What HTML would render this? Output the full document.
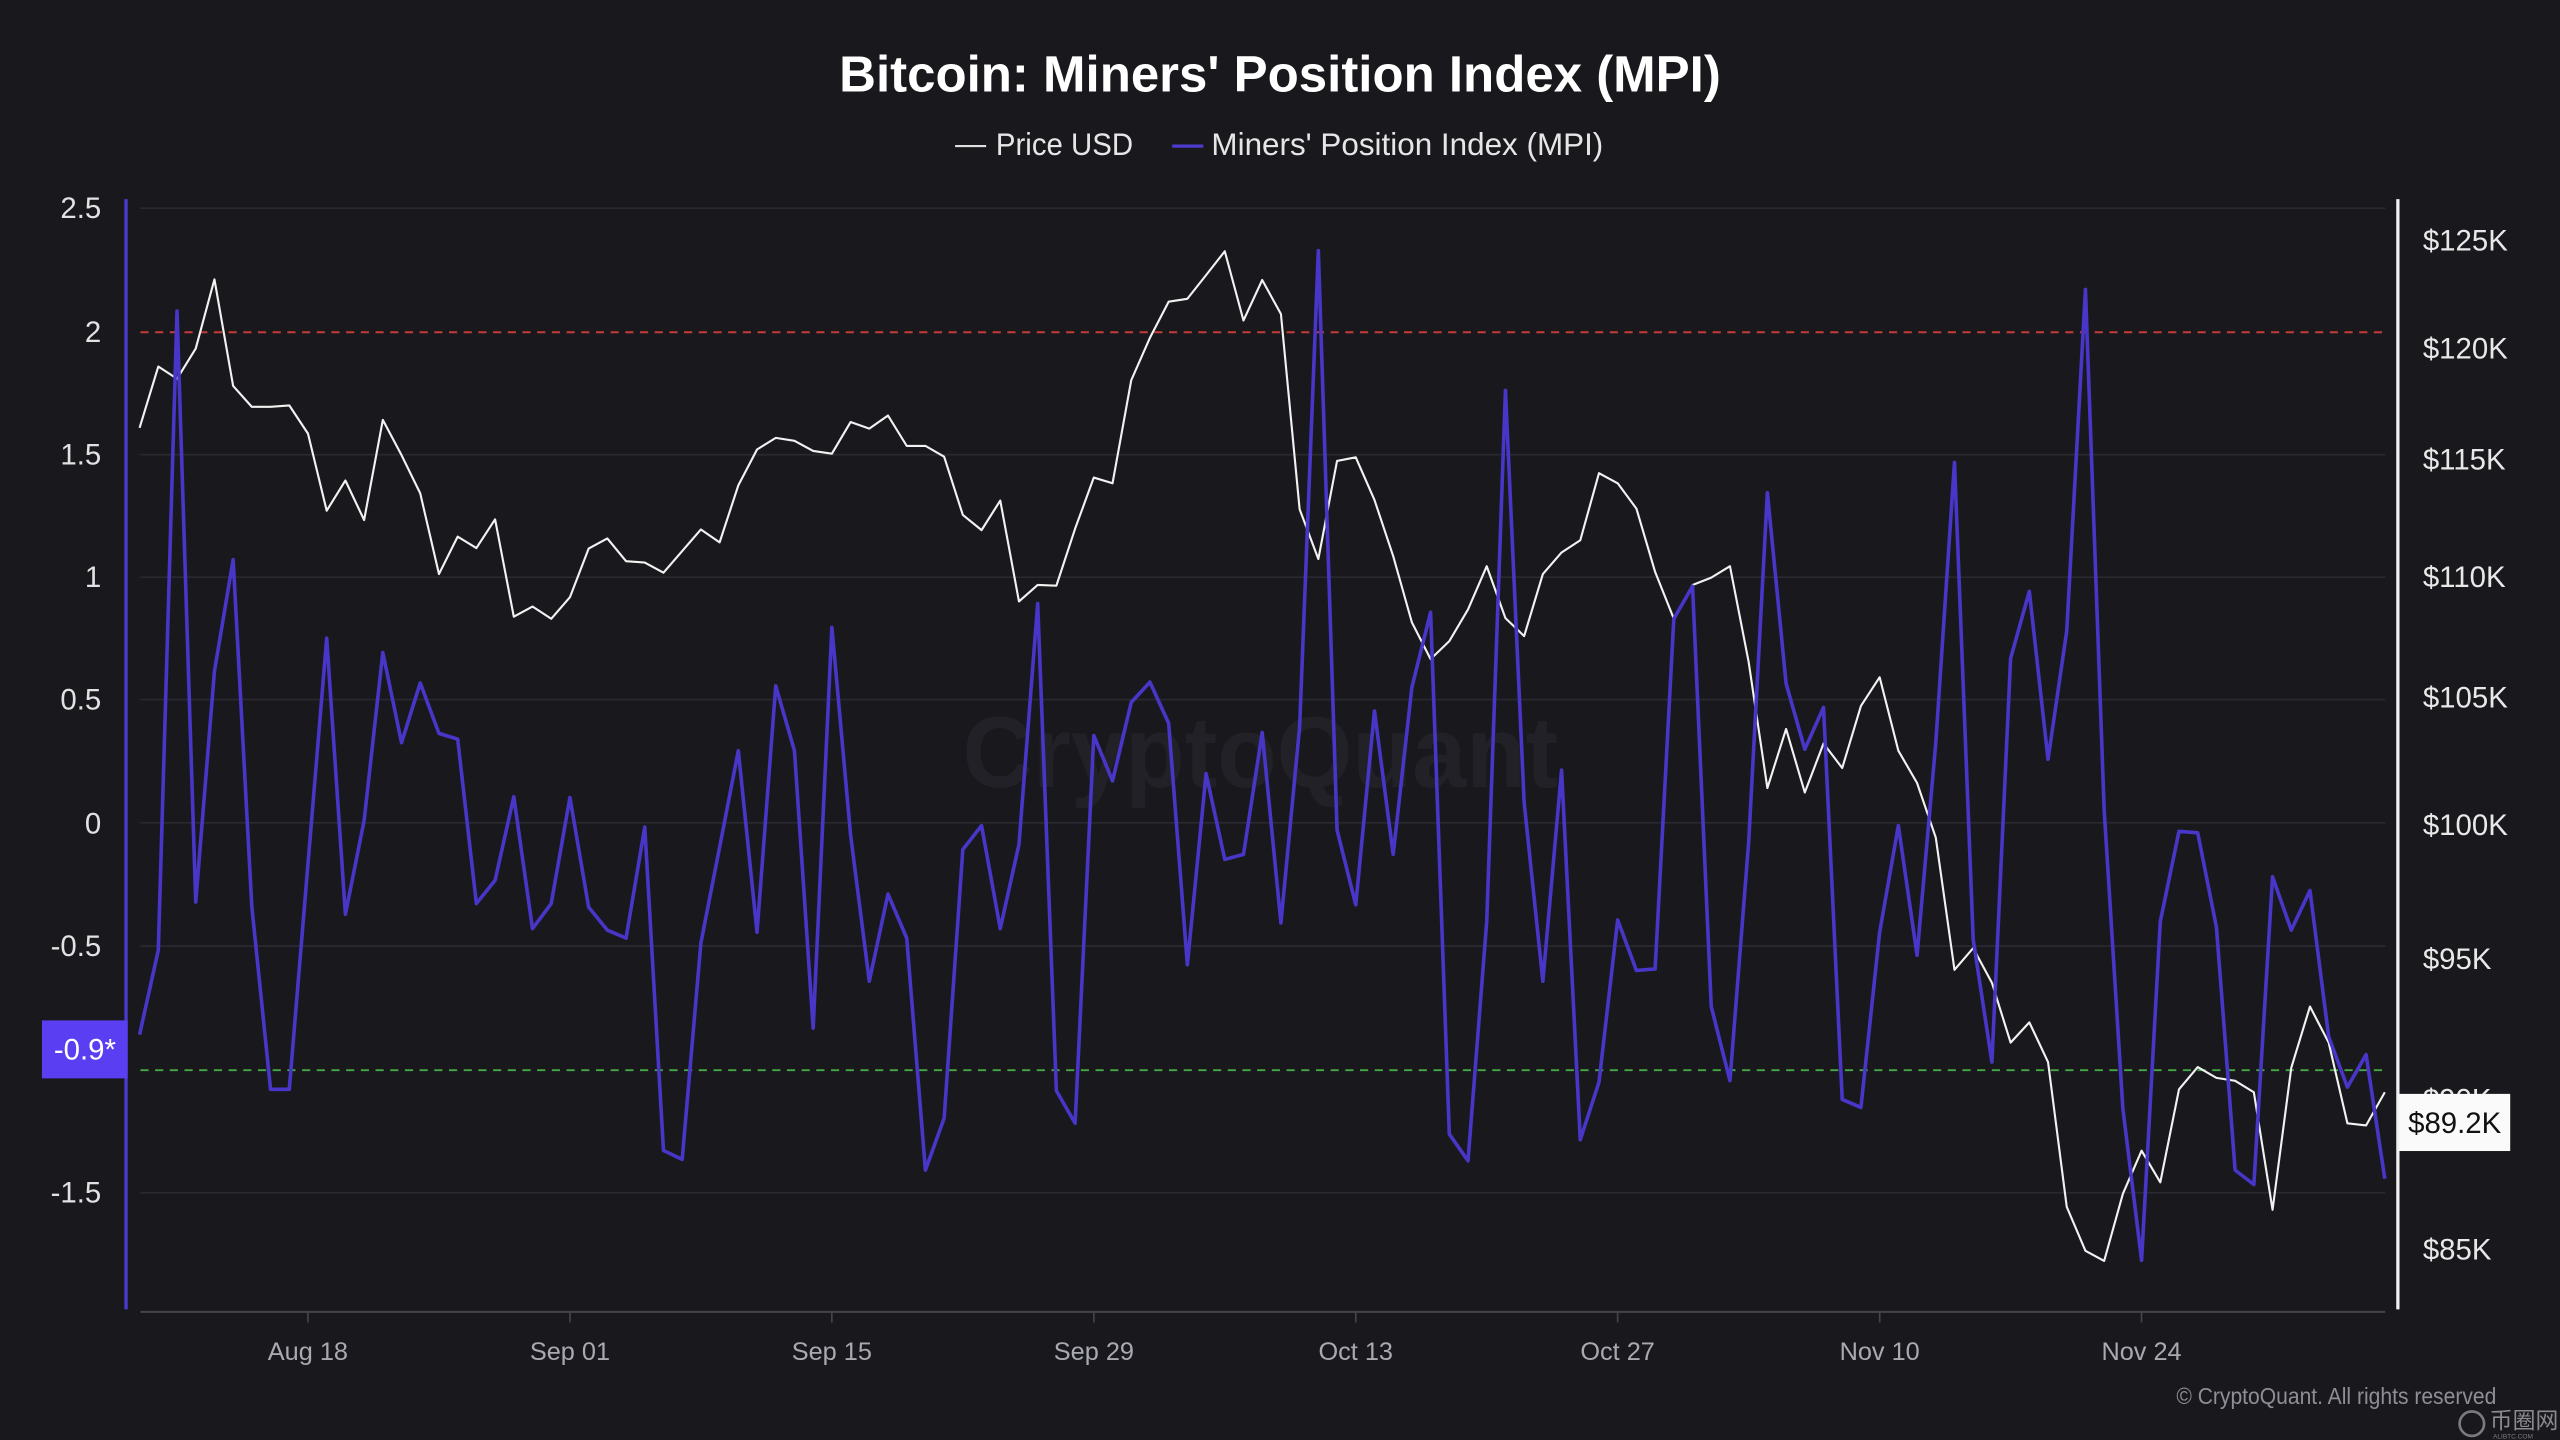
<!DOCTYPE html>
<html>
<head>
<meta charset="utf-8">
<style>
  html, body { margin: 0; padding: 0; background: #19191d; }
  svg { display: block; }
  text { font-family: "Liberation Sans", "Noto Sans CJK SC", sans-serif; }
</style>
</head>
<body>
<svg width="2560" height="1440" viewBox="0 0 1568 882" xmlns="http://www.w3.org/2000/svg">
  <rect x="0" y="0" width="1568" height="882" fill="#19191d"/>

  <!-- Title -->
  <text x="784" y="56" text-anchor="middle" font-size="31" font-weight="bold" fill="#ffffff" textLength="540" lengthAdjust="spacingAndGlyphs">Bitcoin: Miners' Position Index (MPI)</text>

  <!-- Legend -->
  <line x1="585" y1="89.5" x2="604" y2="89.5" stroke="#e0e0e0" stroke-width="1.3"/>
  <text x="610" y="95" font-size="19.5" fill="#e6e6e6" textLength="84" lengthAdjust="spacingAndGlyphs">Price USD</text>
  <line x1="718" y1="89.5" x2="737" y2="89.5" stroke="#4b3bd0" stroke-width="2"/>
  <text x="742" y="95" font-size="19.5" fill="#e6e6e6" textLength="240" lengthAdjust="spacingAndGlyphs">Miners' Position Index (MPI)</text>

  <!-- Watermark -->
  <text x="772" y="482" text-anchor="middle" font-size="62" font-weight="bold" fill="#222127" textLength="365" lengthAdjust="spacingAndGlyphs">CryptoQuant</text>

  <!-- Gridlines -->
  <g stroke="#2a2930" stroke-width="1">
    <line x1="86" y1="127.5" x2="1461" y2="127.5"/>
    <line x1="86" y1="278.5" x2="1461" y2="278.5"/>
    <line x1="86" y1="353.5" x2="1461" y2="353.5"/>
    <line x1="86" y1="428.5" x2="1461" y2="428.5"/>
    <line x1="86" y1="504" x2="1461" y2="504"/>
    <line x1="86" y1="579.5" x2="1461" y2="579.5"/>
    <line x1="86" y1="730.5" x2="1461" y2="730.5"/>
  </g>
  <!-- Threshold lines -->
  <line x1="86" y1="203.5" x2="1461" y2="203.5" stroke="#c63a3a" stroke-width="1.2" stroke-dasharray="5 4"/>
  <line x1="86" y1="655.5" x2="1461" y2="655.5" stroke="#45a845" stroke-width="1.2" stroke-dasharray="5 4"/>

  <!-- Axes -->
  <line x1="77.2" y1="122" x2="77.2" y2="802" stroke="#4b3bd0" stroke-width="2"/>
  <line x1="1468.7" y1="122" x2="1468.7" y2="802" stroke="#f0f0f0" stroke-width="2"/>
  <line x1="86" y1="803.5" x2="1461" y2="803.5" stroke="#45454c" stroke-width="1.2"/>
  <g stroke="#45454c" stroke-width="1">
    <line x1="188.6" y1="803.5" x2="188.6" y2="810"/>
    <line x1="349.1" y1="803.5" x2="349.1" y2="810"/>
    <line x1="509.5" y1="803.5" x2="509.5" y2="810"/>
    <line x1="670" y1="803.5" x2="670" y2="810"/>
    <line x1="830.4" y1="803.5" x2="830.4" y2="810"/>
    <line x1="990.8" y1="803.5" x2="990.8" y2="810"/>
    <line x1="1151.3" y1="803.5" x2="1151.3" y2="810"/>
    <line x1="1311.7" y1="803.5" x2="1311.7" y2="810"/>
  </g>

  <!-- Left axis labels -->
  <g font-size="18" fill="#e2e2e2" text-anchor="end">
    <text x="62" y="133.5">2.5</text>
    <text x="62" y="209.5">2</text>
    <text x="62" y="284.5">1.5</text>
    <text x="62" y="359.5">1</text>
    <text x="62" y="434.5">0.5</text>
    <text x="62" y="510.5">0</text>
    <text x="62" y="585.5">-0.5</text>
    <text x="62" y="736.5">-1.5</text>
  </g>

  <!-- Right axis labels -->
  <g font-size="18" fill="#e8e8e8" text-anchor="start">
    <text x="1484" y="153.5">$125K</text>
    <text x="1484" y="219.5">$120K</text>
    <text x="1484" y="287.5">$115K</text>
    <text x="1484" y="359.5">$110K</text>
    <text x="1484" y="433.5">$105K</text>
    <text x="1484" y="511.5">$100K</text>
    <text x="1484" y="593.5">$95K</text>
    <text x="1484" y="679.5">$90K</text>
    <text x="1484" y="771.5">$85K</text>
  </g>

  <!-- X axis labels -->
  <g font-size="15.5" fill="#a9a9b2" text-anchor="middle">
    <text x="188.6" y="833">Aug 18</text>
    <text x="349.1" y="833">Sep 01</text>
    <text x="509.5" y="833">Sep 15</text>
    <text x="670" y="833">Sep 29</text>
    <text x="830.4" y="833">Oct 13</text>
    <text x="990.8" y="833">Oct 27</text>
    <text x="1151.3" y="833">Nov 10</text>
    <text x="1311.7" y="833">Nov 24</text>
  </g>

  <!-- Price series -->
  <polyline fill="none" stroke="#f2f2f2" stroke-width="1.3" stroke-linejoin="round" points="85.5,262 96.96,224.5 108.42,232 119.88,213.5 131.34,171.1 142.8,236.4 154.26,249.2 165.72,249.2 177.18,248.3 188.64,265.6 200.1,312.8 211.56,294.3 223.02,318.5 234.48,257.2 245.94,278.8 257.4,302.2 268.86,351.6 280.32,328.7 291.78,335.7 303.24,318.1 314.7,377.7 326.16,371.5 337.62,379 349.08,365.8 360.54,336 372,329.8 383.46,343.7 394.92,344.6 406.38,350.8 417.84,337.5 429.3,324.3 440.76,332.2 452.22,297.3 463.68,275.3 475.14,268.2 486.6,270 498.06,276.2 509.52,277.9 520.98,258.5 532.44,262.5 543.9,254.5 555.36,273.1 566.82,273.1 578.28,279.7 589.74,315.4 601.2,324.7 612.66,306.6 624.12,368.4 635.58,358.3 647.04,358.7 658.5,323.8 669.96,292.5 681.42,296 692.88,232.9 704.34,206.9 715.8,184.8 727.26,183 738.72,168.5 750.18,153.9 761.64,196.3 773.1,171.5 784.56,192.3 796.02,311.9 807.48,342.4 818.94,282.3 830.4,280.1 841.86,306.2 853.32,340.6 864.78,381.2 876.24,403.7 887.7,392.7 899.16,373.3 910.62,346.8 922.08,378.6 933.54,389.6 945,351.6 956.46,338.4 967.92,330.9 979.38,289.8 990.84,296 1002.3,311.5 1013.76,350.3 1025.22,379 1036.68,358.3 1048.14,353.8 1059.6,346.8 1071.06,405.5 1082.52,482.7 1093.98,446.5 1105.44,485.4 1116.9,455.4 1128.36,470.4 1139.82,432.4 1151.28,414.8 1162.74,459.8 1174.2,479.6 1185.66,513 1197.12,594 1208.58,580.7 1220.04,601.9 1231.5,638.6 1242.96,626.2 1254.42,650.5 1265.88,739.2 1277.34,766.1 1288.8,772.3 1300.26,731.2 1311.72,704.8 1323.18,724.2 1334.64,667.2 1346.1,653.6 1357.56,660.2 1369.02,662 1380.48,669 1391.94,741 1403.4,654 1414.86,616.5 1426.32,638.6 1437.78,688 1449.24,689.3 1460.7,669"/>

  <!-- MPI series -->
  <polyline fill="none" stroke="#4836c8" stroke-width="2.2" stroke-linejoin="round" points="85.5,633.7 96.96,582 108.42,190.5 119.88,552.5 131.34,411.2 142.8,342.8 154.26,555.6 165.72,667.2 177.18,667.2 188.64,529.1 200.1,390.9 211.56,560 223.02,502.6 234.48,399.7 245.94,454.9 257.4,418.3 268.86,449.2 280.32,452.7 291.78,553.4 303.24,539.2 314.7,488 326.16,568.8 337.62,553.4 349.08,488.5 360.54,555.6 372,569.7 383.46,574.6 394.92,506.6 406.38,704.7 417.84,710.1 429.3,577.6 440.76,518.9 452.22,459.8 463.68,571 475.14,420.1 486.6,459.8 498.06,629.7 509.52,384.3 520.98,511.4 532.44,601 543.9,547.6 555.36,574.6 566.82,716.7 578.28,684.9 589.74,520.3 601.2,505.7 612.66,568.8 624.12,517.2 635.58,369.7 647.04,668.1 658.5,688 669.96,450.5 681.42,478.3 692.88,430.2 704.34,417.8 715.8,443 727.26,590.9 738.72,473.9 750.18,526.4 761.64,523.3 773.1,448.7 784.56,565.3 796.02,445.2 807.48,153.5 818.94,508.3 830.4,554.2 841.86,435.5 853.32,523.3 864.78,421 876.24,375 887.7,694.6 899.16,711 910.62,564.4 922.08,239.1 933.54,491.6 945,601 956.46,471.7 967.92,698.1 979.38,662.8 990.84,563.5 1002.3,594.4 1013.76,593.5 1025.22,379 1036.68,359.1 1048.14,616.5 1059.6,661.9 1071.06,515.8 1082.52,301.8 1093.98,418.7 1105.44,458.9 1116.9,433.3 1128.36,673.4 1139.82,678.3 1151.28,571 1162.74,505.7 1174.2,585.1 1185.66,455 1197.12,283.2 1208.58,575.4 1220.04,650.5 1231.5,403.3 1242.96,362.2 1254.42,465.1 1265.88,386.5 1277.34,177.3 1288.8,496 1300.26,679.1 1311.72,771.9 1323.18,564.4 1334.64,509.2 1346.1,510.1 1357.56,567.9 1369.02,716.7 1380.48,725.5 1391.94,537 1403.4,569.7 1414.86,545.4 1426.32,635 1437.78,665.9 1449.24,646 1460.7,722"/>

  <!-- Current value boxes -->
  <rect x="25.7" y="625" width="52.5" height="35.5" fill="#5a3ef2"/>
  <text x="52" y="649" text-anchor="middle" font-size="18" fill="#ffffff">-0.9*</text>

  <rect x="1469.5" y="670" width="68" height="35" fill="#fafafa"/>
  <text x="1503.5" y="694" text-anchor="middle" font-size="18" fill="#111111">$89.2K</text>

  <!-- Copyright -->
  <text x="1333" y="860" font-size="14" fill="#8e8e96" textLength="196" lengthAdjust="spacingAndGlyphs">© CryptoQuant. All rights reserved</text>

  <!-- Corner logo -->
  <circle cx="1514" cy="872" r="7.5" fill="none" stroke="#7a7a80" stroke-width="1.6"/>
  <text x="1525" y="875" font-size="14" fill="#8a8a90">币圈网</text>
  <text x="1527" y="881" font-size="4" fill="#7a7a80">ALIBTC.COM</text>
</svg>
</body>
</html>
